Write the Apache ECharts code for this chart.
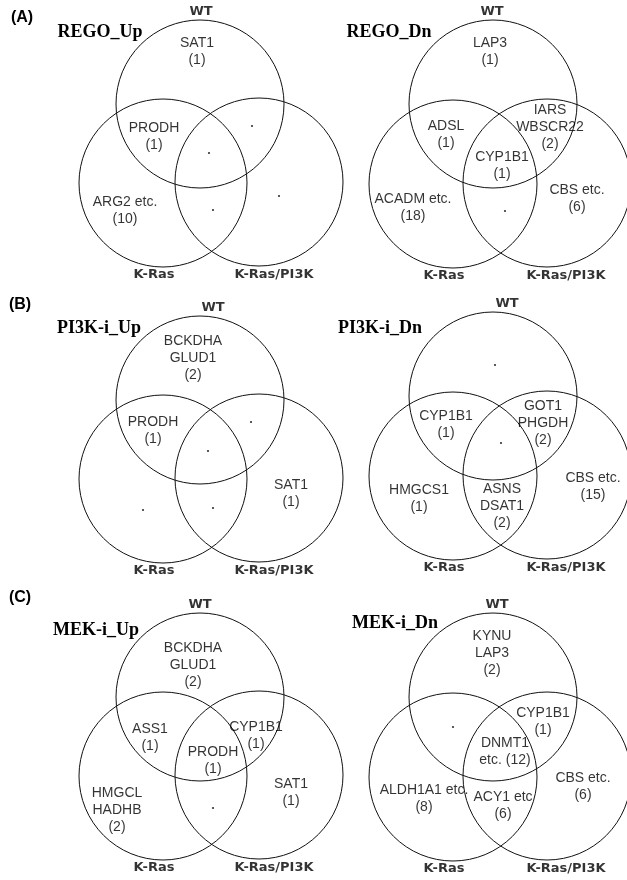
<!DOCTYPE html>
<html>
<head>
<meta charset="utf-8">
<script src="https://cdn.jsdelivr.net/npm/echarts@6/dist/echarts.min.js"></script>
<style>
  html, body { margin: 0; padding: 0; background: #fff; }
  #chart { width: 627px; height: 880px; }
</style>
</head>
<body>
<div id="chart"></div>
<script>
// Regions of a three-set Venn diagram:
// W = WT only, K = K-Ras only, P = K-Ras/PI3K only, and their overlaps.
const REGIONS = ['W', 'K', 'P', 'WK', 'WP', 'KP', 'WKP'];
const SET_NAMES = ['WT', 'K-Ras', 'K-Ras/PI3K'];
const PANEL_TITLES = ['REGO_Up', 'REGO_Dn', 'PI3K-i_Up', 'PI3K-i_Dn', 'MEK-i_Up', 'MEK-i_Dn'];
const PANEL_LETTERS = ['(A)', '(B)', '(C)'];

// Genes listed in each region (order follows REGIONS) and the region sizes
const regoUpGenes   = [['SAT1'], ['ARG2 etc.'], [], ['PRODH'], [], [], []];
const regoUpCounts  = [1, 10, 0, 1, 0, 0, 0];

const regoDnGenes   = [['LAP3'], ['ACADM etc.'], ['CBS etc.'], ['ADSL'], ['IARS', 'WBSCR22'], [], ['CYP1B1']];
const regoDnCounts  = [1, 18, 6, 1, 2, 0, 1];

const pi3kUpGenes   = [['BCKDHA', 'GLUD1'], [], ['SAT1'], ['PRODH'], [], [], []];
const pi3kUpCounts  = [2, 0, 1, 1, 0, 0, 0];

const pi3kDnGenes   = [[], ['HMGCS1'], ['CBS etc.'], ['CYP1B1'], ['GOT1', 'PHGDH'], ['ASNS', 'DSAT1'], []];
const pi3kDnCounts  = [0, 1, 15, 1, 2, 2, 0];

const mekUpGenes    = [['BCKDHA', 'GLUD1'], ['HMGCL', 'HADHB'], ['SAT1'], ['ASS1'], ['CYP1B1'], [], ['PRODH']];
const mekUpCounts   = [2, 2, 1, 1, 1, 0, 1];

const mekDnGenes    = [['KYNU', 'LAP3'], ['ALDH1A1 etc.'], ['CBS etc.'], [], ['CYP1B1'], ['ACY1 etc'], ['DNMT1', 'etc.']];
const mekDnCounts   = [2, 8, 6, 0, 1, 6, 12];

const panelGenes  = [regoUpGenes, regoDnGenes, pi3kUpGenes, pi3kDnGenes, mekUpGenes, mekDnGenes];
const panelCounts = [regoUpCounts, regoDnCounts, pi3kUpCounts, pi3kDnCounts, mekUpCounts, mekDnCounts];

// ---- layout (pixel offsets relative to the WT circle centre) ----
const W = 627, H = 880;
const R = 84;
const PANEL_CENTERS = [[200, 104], [493, 104], [200, 400], [493, 396], [200, 697], [493, 697]];
const CIRCLES_LEFT  = [[0, 0], [-37, 79], [59, 78]];
const CIRCLES_RIGHT = [[0, 0], [-40, 80], [54, 79]];
const REGION_ANCHORS = [
  [[-3, -52], [-75, 107], [79, 92], [-46, 33], [52, 22], [13, 106], [9, 49]],
  [[-3, -52], [-80, 104], [84, 95], [-47, 31], [57, 23], [12, 107], [9, 62]],
  [[-7, -42], [-57, 110], [91, 94], [-47, 31], [51, 22], [13, 108], [8, 51]],
  [[2, -31], [-74, 103], [100, 91], [-47, 29], [50, 27], [9, 110], [8, 47]],
  [[-7, -32], [-83, 113], [91, 96], [-50, 41], [56, 39], [13, 111], [13, 64]],
  [[-1, -44], [-69, 102], [90, 90], [-40, 30], [50, 25], [10, 109], [12, 55]]
];
const WT_LABEL_DX = [1, -1, 13, 14, 0, 4];
const INLINE_COUNT = [[5, 'WKP']];  // count written on the last gene line
const TITLE_POS  = [[100, 32], [389, 32], [99, 328], [380, 328], [96, 630], [395, 623]];
const LETTER_POS = [[22, 18], [20, 305], [20, 598]];

const LABEL_FONT = 'Liberation Sans, Arial, sans-serif';
const SET_FONT = 'DejaVu Sans, Verdana, sans-serif';
const INK = '#000';

function regionText(panel, r) {
  const genes = panelGenes[panel][r];
  const n = panelCounts[panel][r];
  const inline = INLINE_COUNT.some(([p, reg]) => p === panel && reg === REGIONS[r]);
  if (inline) {
    const lines = genes.slice();
    lines[lines.length - 1] += ' (' + n + ')';
    return lines.join('\n');
  }
  return genes.concat(['(' + n + ')']).join('\n');
}

const grids = [], xAxes = [], yAxes = [], series = [], graphics = [];

PANEL_TITLES.forEach((title, i) => {
  const [cx, cy] = PANEL_CENTERS[i];
  const circles = (i % 2 === 0) ? CIRCLES_LEFT : CIRCLES_RIGHT;
  // keep each grid inside the canvas so that one data unit stays one pixel
  const left = Math.max(0, cx - 160), right = Math.min(W, cx + 160);
  const top = Math.max(0, cy - 130), bottom = Math.min(H, cy + 200);
  grids.push({ left: left, top: top, width: right - left, height: bottom - top });
  xAxes.push({ type: 'value', gridIndex: i, min: left - cx, max: right - cx, show: false });
  yAxes.push({ type: 'value', gridIndex: i, min: top - cy, max: bottom - cy, inverse: true, show: false });

  // set circles
  series.push({
    type: 'custom', xAxisIndex: i, yAxisIndex: i, silent: true, clip: false,
    data: circles.map((c, k) => ({ value: c, name: SET_NAMES[k] })),
    renderItem: (params, api) => {
      const c = api.coord([api.value(0), api.value(1)]);
      const s = api.size([R, R]);
      return {
        type: 'circle',
        shape: { cx: c[0], cy: c[1], r: s[0] },
        style: { fill: 'none', stroke: '#111', lineWidth: 1 }
      };
    }
  });

  // region contents
  const textData = [], dotData = [];
  REGIONS.forEach((reg, r) => {
    const pos = REGION_ANCHORS[i][r];
    if (panelCounts[i][r] > 0) {
      textData.push({ value: pos, name: regionText(i, r) });
    } else {
      dotData.push({ value: pos });
    }
  });
  series.push({
    type: 'scatter', xAxisIndex: i, yAxisIndex: i, silent: true,
    symbolSize: 0, data: textData,
    label: {
      show: true, position: 'inside', formatter: '{b}',
      fontFamily: LABEL_FONT, fontSize: 14, lineHeight: 17,
      color: INK, align: 'center', verticalAlign: 'middle'
    }
  });
  series.push({
    type: 'scatter', xAxisIndex: i, yAxisIndex: i, silent: true,
    symbol: 'circle', symbolSize: 2.2, data: dotData,
    itemStyle: { color: INK }
  });

  // set names
  const setLabels = [
    { value: [WT_LABEL_DX[i], -R - 8], name: SET_NAMES[0] },
    { value: [circles[1][0] - 9, circles[1][1] + R + 8], name: SET_NAMES[1] },
    { value: [circles[2][0] + (i % 2 === 0 ? 15 : 19), circles[2][1] + R + 9], name: SET_NAMES[2] }
  ];
  series.push({
    type: 'scatter', xAxisIndex: i, yAxisIndex: i, silent: true,
    symbolSize: 0, data: setLabels,
    label: {
      show: true, position: 'inside', formatter: '{b}',
      fontFamily: SET_FONT, fontWeight: 'bold', fontSize: 13,
      color: INK, align: 'center', verticalAlign: 'middle'
    }
  });

  graphics.push({
    type: 'text', x: TITLE_POS[i][0], y: TITLE_POS[i][1], silent: true,
    style: {
      text: title, fontFamily: 'Liberation Serif, Times New Roman, serif',
      fontWeight: 'bold', fontSize: 18, fill: INK,
      align: 'center', verticalAlign: 'middle'
    }
  });
});

PANEL_LETTERS.forEach((t, k) => {
  graphics.push({
    type: 'text', x: LETTER_POS[k][0], y: LETTER_POS[k][1], silent: true,
    style: {
      text: t, fontFamily: LABEL_FONT, fontWeight: 'bold', fontSize: 16,
      fill: INK, align: 'center', verticalAlign: 'middle'
    }
  });
});

const chart = echarts.init(document.getElementById('chart'), null, { renderer: 'canvas' });
chart.setOption({
  animation: false,
  backgroundColor: '#fff',
  grid: grids, xAxis: xAxes, yAxis: yAxes,
  series: series,
  graphic: graphics
});
</script>
</body>
</html>
